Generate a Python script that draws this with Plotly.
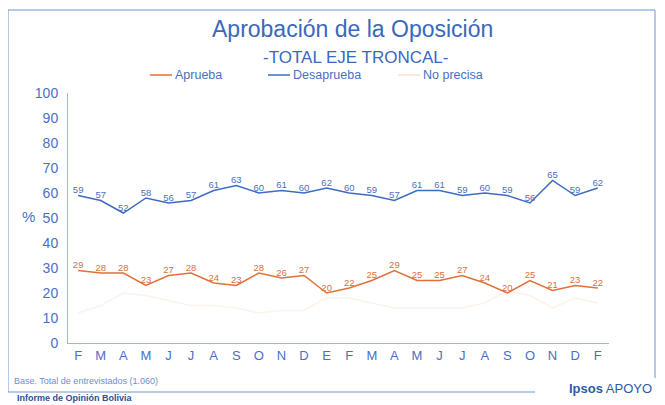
import plotly.graph_objects as go

# months F 2005 ... F 2007 (24 surveys)
months = ["F", "M", "A", "M", "J", "J", "A", "S", "O", "N", "D", "E",
          "F", "M", "A", "M", "J", "J", "A", "S", "O", "N", "D", "F"]
aprueba = [29, 28, 28, 23, 27, 28, 24, 23, 28, 26, 27, 20,
           22, 25, 29, 25, 25, 27, 24, 20, 25, 21, 23, 22]
desaprueba = [59, 57, 52, 58, 56, 57, 61, 63, 60, 61, 60, 62,
              60, 59, 57, 61, 61, 59, 60, 59, 56, 65, 59, 62]
# barely visible in the scan, estimated
no_precisa = [12, 15, 20, 19, 17, 15, 15, 14, 12, 13, 13, 18,
              18, 16, 14, 14, 14, 14, 16, 21, 19, 14, 18, 16]

OFF = 8  # page body margin
W, H = 657 - OFF, 405 - OFF
L, T = 68 - OFF, 93 - OFF
R = W - (609 - OFF)
B = H - (343 - OFF)
pw, ph = W - L - R, H - T - B


def px(x):
    return (x - OFF - L) / pw


def py(y):
    return (H - B - (y - OFF)) / ph


BLUE = "#3d6cc0"
ORANGE = "#e07038"
FAINT = "#fdf3ea"
idx = list(range(len(months)))

fig = go.Figure()
fig.add_scatter(x=idx, y=no_precisa, mode="lines", line=dict(color=FAINT, width=1.5),
                showlegend=False, hoverinfo="skip")
fig.add_scatter(x=idx, y=aprueba, mode="lines+text", line=dict(color=ORANGE, width=1.5),
                text=[str(v) for v in aprueba], textposition="top center",
                textfont=dict(size=9.5, color="#d8703e", family="Liberation Sans"),
                showlegend=False)
fig.add_scatter(x=idx, y=desaprueba, mode="lines+text", line=dict(color=BLUE, width=1.5),
                text=[str(v) for v in desaprueba], textposition="top center",
                textfont=dict(size=9.5, color="#4a70bf", family="Liberation Sans"),
                showlegend=False)

fig.update_layout(
    width=W, height=H,
    margin=dict(l=L, r=R, t=T, b=B),
    paper_bgcolor="white", plot_bgcolor="white",
    font=dict(family="Liberation Sans", color=BLUE),
)
fig.update_xaxes(range=[-0.45, 23.5], tickvals=idx, ticktext=months, showgrid=False,
                 zeroline=False, showline=True, linecolor="#9db6e0", linewidth=1,
                 tickfont=dict(size=13, color="#4a70c4"), ticks="")
fig.update_yaxes(range=[0, 100], dtick=10, showgrid=False, zeroline=False,
                 showline=True, linecolor="#9db6e0", linewidth=1, ticklabelstandoff=6,
                 tickfont=dict(size=14, color="#4a70c4"), ticks="")

# frame
frame = [(8, 10, 655, 10), (8, 10, 8, 392), (655, 10, 655, 378), (8, 392, 535, 392)]
for x0, y0, x1, y1 in frame:
    fig.add_shape(type="line", xref="paper", yref="paper",
                  x0=px(x0), y0=py(y0), x1=px(x1), y1=py(y1),
                  line=dict(color="#6f93d0", width=1))

# legend drawn by hand
legend = [("Aprueba", ORANGE, 150), ("Desaprueba", BLUE, 268), ("No precisa", "#f8e2cf", 398)]
for name, col, x in legend:
    fig.add_shape(type="line", xref="paper", yref="paper",
                  x0=px(x), y0=py(75), x1=px(x + 22), y1=py(75),
                  line=dict(color=col, width=1.5))
    fig.add_annotation(text=name, xref="paper", yref="paper", x=px(x + 23), y=py(75),
                       xanchor="left", yanchor="middle", showarrow=False,
                       font=dict(size=12.5, color="#4a70c4"))

texts = [
    ("Aprobación de la Oposición", 352, 29, 23, "#3a68bd", "center"),
    ("-TOTAL EJE TRONCAL-", 355, 57, 17, "#3a68bd", "center"),
    ("%", 28, 216, 15, "#4a70c4", "center"),
    ("Base. Total de entrevistados (1.060)", 12, 381, 9, "#6f8fc8", "left"),
    ("<b>Informe de Opinión Bolivia</b>", 15, 398, 9, "#2f4f8f", "left"),
    ("<b>Ipsos</b> APOYO", 654, 388, 13, "#2e5aa6", "right"),
]
for t, x, y, s, c, a in texts:
    fig.add_annotation(text=t, xref="paper", yref="paper", x=px(x), y=py(y),
                       xanchor=a, yanchor="middle", showarrow=False,
                       font=dict(size=s, color=c))

fig.write_html("out.html")
